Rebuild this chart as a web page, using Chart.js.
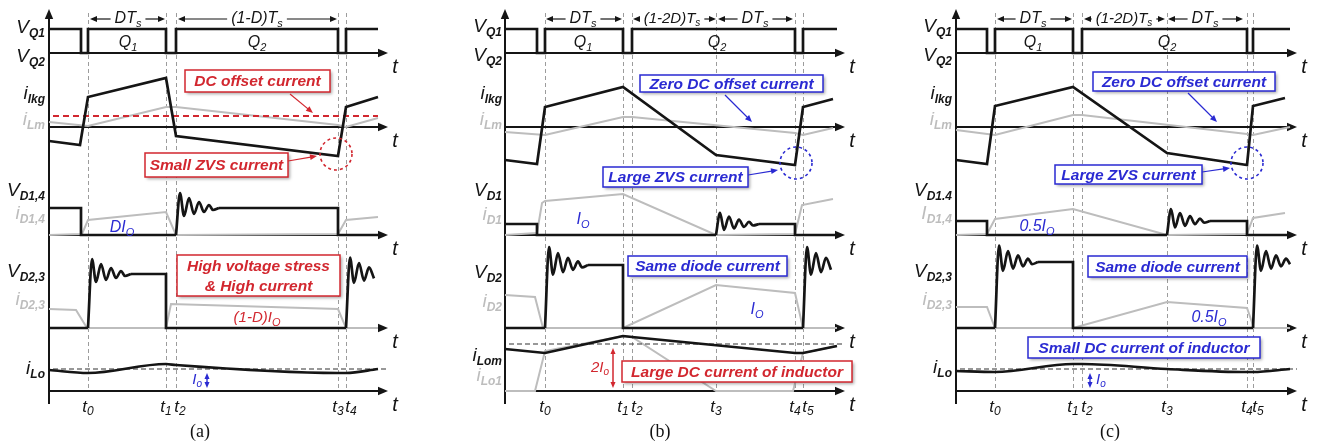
<!DOCTYPE html>
<html>
<head>
<meta charset="utf-8">
<script src="https://cdn.jsdelivr.net/npm/chart.js@4.4.0/dist/chart.umd.min.js"></script>
<style>
html, body { margin: 0; padding: 0; background: #fff; }
#wrap { position: relative; width: 1317px; height: 445px; overflow: hidden; }
canvas { position: absolute; top: 0; }
</style>
</head>
<body>
<div id="wrap">
  <canvas id="chartA" width="440" height="445" style="left:0px"></canvas>
  <canvas id="chartB" width="440" height="445" style="left:440px"></canvas>
  <canvas id="chartC" width="437" height="445" style="left:880px"></canvas>
</div>
<script>
// time runs from the vertical axis, each trace value is its height above its own zero line
// ringing after a diode turns off: offsets in time and deviation from the settled level
const ringDt  = [4, 8, 13, 18, 23, 28, 33, 37, 43];
const ringDev = [15, -8, 10, -6, 6, -4, 3, -2, 0];

// (a)
const tickNamesA = ['0', '1', '2', '3', '4'];
const tickTimesA = [39, 117, 127, 289, 297];
const vqA   = [[0,24],[32,24],[32,0],[39,0],[39,24],[117,24],[117,0],[127,0],[127,24],[289,24],[289,0],[297,0],[297,24],[329,24]];
const ilkgA = [[0,-14],[31,-18],[39,30],[117,49],[127,-9],[289,-29],[297,20],[329,30]];
const ilmA  = [[0,5],[39,1],[117,20],[127,20],[289,2],[297,0],[329,9]];
const dcOffsetA = [[4,11],[329,11]];
const vd1A  = [[0,27],[32,27],[32,0],[127,0],{ring:27,k:1},[289,27],[289,0],[329,0]];
const id1A  = [[0,0],[33,1],[39,15],[117,23],[127,0],[289,1],[297,15],[329,18]];
const vd2A  = [[0,0],[39,0],{ring:54,k:1},[117,54],[117,0],[297,0],{ring:54,k:1.1,end:329}];
const id2A  = [[0,19],[27,18],[38,0],[117,0],[122,24],[289,19],[297,0],[329,0]];
const iloA  = [[0,21],[39,18],[117,27],[127,26],[289,18],[297,18],[329,22]];
const ioRefA = [[4,22],[339,22]];

// (b)
const tickNamesB = ['0', '1', '2', '3', '4', '5'];
const tickTimesB = [40, 118, 127, 211, 290, 298];
const vqB   = [[0,24],[32,24],[32,0],[40,0],[40,24],[118,24],[118,0],[127,0],[127,24],[290,24],[290,0],[298,0],[298,24],[332,24]];
const ilkgB = [[0,-33],[32,-37],[40,20],[118,40],[211,-28],[290,-38],[298,20],[328,28]];
const ilmB  = [[0,-5],[40,-8],[118,10],[127,10],[290,-6],[298,-8],[328,-1]];
const vd1B  = [[0,11],[32,11],[32,0],[211,0],{ring:11,k:0.75},[290,11],[290,0],[332,0]];
const id1B  = [[0,0],[32,2],[37,32],[40,34],[118,41],[211,0],[290,1],[297,30],[328,36]];
const vd2B  = [[0,0],[40,0],{ring:63,k:1.2},[118,63],[118,0],[298,0],{ring:63,k:1.2,end:330}];
const id2B  = [[0,33],[30,31],[38,0],[118,0],[211,43],[290,35],[298,0],[332,0]];
const ilomB = [[0,42],[40,38],[118,55],[127,54],[290,38],[298,38],[332,45]];
const ilo1B = [[0,0],[30,0],[40,40],[118,55],[127,54],[211,0],[288,0],[298,38],[332,45]];
const ioRefB = [[4,47],[340,47]];

// (c)
const tickNamesC = ['0', '1', '2', '3', '4', '5'];
const tickTimesC = [39, 117, 126, 211, 291, 297];
const vqC   = [[0,24],[31,24],[31,0],[39,0],[39,24],[117,24],[117,0],[126,0],[126,24],[291,24],[291,0],[297,0],[297,24],[334,24]];
const ilkgC = [[0,-33],[31,-37],[39,21],[117,40],[211,-26],[291,-38],[297,21],[329,29]];
const ilmC  = [[0,-3],[39,-8],[117,12],[126,12],[291,-7],[297,-8],[334,0]];
const vd1C  = [[0,14],[31,14],[31,0],[211,0],{ring:14,k:0.8},[291,14],[291,0],[334,0]];
const id1C  = [[0,0],[31,1],[39,16],[117,26],[211,0],[291,1],[297,17],[329,22]];
const vd2C  = [[0,0],[39,0],{ring:66,k:1.1},[117,66],[117,0],[297,0],{ring:66,k:1.1,end:334}];
const id2C  = [[0,21],[31,21],[39,0],[117,0],[211,26],[291,20],[298,0],[334,0]];
const iloC  = [[0,20],[39,19],[117,27],[126,27],[211,22],[291,19],[297,19],[334,22]];
const ioRefC = [[4,22],[341,22]];

const rowNamesA = [['V','Q1'],['V','Q2'],['i','lkg'],['i','Lm'],['V','D1,4'],['i','D1,4'],['V','D2,3'],['i','D2,3'],['i','Lo']];
const rowNamesB = [['V','Q1'],['V','Q2'],['i','lkg'],['i','Lm'],['V','D1'],['i','D1'],['V','D2'],['i','D2'],['i','Lom'],['i','Lo1']];
const rowNamesC = [['V','Q1'],['V','Q2'],['i','lkg'],['i','Lm'],['V','D1.4'],['I','D1,4'],['V','D2,3'],['i','D2,3'],['i','Lo']];

// ---- layout / style ----
const FONT = '"Liberation Sans", Arial, sans-serif';
const BLACK = '#151515', GRAY = '#bdbdbd', RED = '#d2272f', BLUE = '#2a2ad2';
const ROW = { vq: 53, ilkg: 127, vd1: 235, vd2: 328, ilo: 391 };

const it = s => `italic ${s}px ${FONT}`;
const bi = s => `italic bold ${s}px ${FONT}`;
const sub2 = (m, s, big, small) => [[m, it(big)], [s, it(small), big * 0.3]];
const subB = (m, s, big, small) => [[m, it(big)], [s, bi(small), big * 0.3]];

// splits a trace into its straight part (with gaps) and its smooth ringing parts
function expand(arr) {
    let main = [], rings = [];
    arr.forEach(p => {
        if (Array.isArray(p)) { main.push({x: p[0], y: p[1]}); return; }
        let start = main[main.length - 1];
        let end = p.end !== undefined ? p.end : Infinity;
        let seg = [{x: start.x, y: start.y}];
        ringDt.forEach((dt, j) => {
            if (start.x + dt <= end) seg.push({x: start.x + dt, y: p.ring + ringDev[j] * p.k});
        });
        rings.push(seg);
        main.push({x: start.x, y: null});
        main.push(seg[seg.length - 1]);
    });
    return { main, rings };
}

function series(arr, base, color, width, extra) {
    let parts = expand(arr);
    let conv = pts => pts.map(p => ({x: p.x, y: p.y === null ? null : base - p.y}));
    let common = {
        borderColor: color,
        borderWidth: width,
        pointRadius: 0,
        fill: false,
        clip: false,
        order: color === GRAY ? 3 : 1
    };
    let sets = [Object.assign({}, common, { data: conv(parts.main), tension: 0 }, extra || {})];
    parts.rings.forEach(r => {
        sets.push(Object.assign({}, common, { data: conv(r), cubicInterpolationMode: 'monotone' }));
    });
    return sets;
}

function measure(ctx, parts) {
    let w = 0;
    parts.forEach(p => { ctx.font = p[1]; w += ctx.measureText(p[0]).width; });
    return w;
}

function txt(ctx, x, y, parts, align, color) {
    ctx.fillStyle = color;
    ctx.textBaseline = 'middle';
    ctx.textAlign = 'left';
    let w = measure(ctx, parts);
    let cx = align === 'right' ? x - w : (align === 'center' ? x - w / 2 : x);
    parts.forEach(p => {
        ctx.font = p[1];
        ctx.fillText(p[0], cx, y + (p[2] || 0));
        cx += ctx.measureText(p[0]).width;
    });
}

function arrow(ctx, x1, y1, x2, y2, color, lw, head) {
    let a = Math.atan2(y2 - y1, x2 - x1);
    ctx.strokeStyle = color; ctx.fillStyle = color; ctx.lineWidth = lw;
    ctx.setLineDash([]);
    ctx.beginPath();
    ctx.moveTo(x1, y1);
    ctx.lineTo(x2 - head * 0.7 * Math.cos(a), y2 - head * 0.7 * Math.sin(a));
    ctx.stroke();
    let h = head * 0.42;
    ctx.beginPath();
    ctx.moveTo(x2, y2);
    ctx.lineTo(x2 - head * Math.cos(a) + h * Math.sin(a), y2 - head * Math.sin(a) - h * Math.cos(a));
    ctx.lineTo(x2 - head * Math.cos(a) - h * Math.sin(a), y2 - head * Math.sin(a) + h * Math.cos(a));
    ctx.closePath();
    ctx.fill();
}

function dblArrow(ctx, x, y1, y2, color) {
    let m = (y1 + y2) / 2;
    arrow(ctx, x, m, x, y1, color, 1.5, 6);
    arrow(ctx, x, m, x, y2, color, 1.5, 6);
}

function dashCircle(ctx, x, y, r, color) {
    ctx.strokeStyle = color; ctx.lineWidth = 1.6;
    ctx.setLineDash([3, 3]);
    ctx.beginPath(); ctx.arc(x, y, r, 0, Math.PI * 2); ctx.stroke();
    ctx.setLineDash([]);
}

function noteBox(ctx, x1, y1, x2, y2, color, lines) {
    ctx.save();
    ctx.shadowColor = 'rgba(0,0,0,0.35)';
    ctx.shadowBlur = 3; ctx.shadowOffsetX = 2; ctx.shadowOffsetY = 2;
    ctx.fillStyle = '#fff';
    ctx.fillRect(x1, y1, x2 - x1, y2 - y1);
    ctx.restore();
    ctx.strokeStyle = color; ctx.lineWidth = 1.5; ctx.setLineDash([]);
    ctx.strokeRect(x1, y1, x2 - x1, y2 - y1);
    let h = (y2 - y1) / lines.length;
    lines.forEach((l, i) => txt(ctx, (x1 + x2) / 2, y1 + h * (i + 0.5) + 1, [[l, bi(15.5)]], 'center', color));
}

function dim(ctx, x1, x2, y, cx, parts) {
    let w = measure(ctx, parts);
    arrow(ctx, cx - w / 2 - 4, y, x1, y, BLACK, 1.2, 7);
    arrow(ctx, cx + w / 2 + 4, y, x2, y, BLACK, 1.2, 7);
    txt(ctx, cx, y, parts, 'center', BLACK);
}

function overlay(p) {
    return {
        id: 'overlay' + p.id,
        beforeDatasetsDraw(chart) {
            let ctx = chart.ctx;
            let X = v => chart.scales.x.getPixelForValue(v);
            let Y = v => chart.scales.y.getPixelForValue(v);
            ctx.save();
            ctx.strokeStyle = '#9c9c9c'; ctx.lineWidth = 1; ctx.setLineDash([4, 3]);
            p.ticks.forEach(t => {
                ctx.beginPath();
                ctx.moveTo(Math.round(X(t)) + 0.5, Y(13));
                ctx.lineTo(Math.round(X(t)) + 0.5, Y(392));
                ctx.stroke();
            });
            ctx.setLineDash([]);
            arrow(ctx, X(0), Y(404), X(0), Y(9), BLACK, 2, 10);
            Object.values(ROW).forEach(b => {
                arrow(ctx, X(0), Y(b), X(p.axisEnd), Y(b), BLACK, 2, 10);
            });
            ctx.restore();
        },
        afterDatasetsDraw(chart) {
            let ctx = chart.ctx;
            let X = v => chart.scales.x.getPixelForValue(v);
            let Y = v => chart.scales.y.getPixelForValue(v);
            ctx.save();
            Object.values(ROW).forEach(b => {
                txt(ctx, X(p.axisEnd) + 7, Y(b) + 14, [['t', it(20)]], 'center', BLACK);
            });
            p.names.forEach((n, i) => {
                txt(ctx, X(p.labelX), Y(p.labelY[i]), subB(n[0], n[1], 19, 12), 'right', p.labelInk[i] ? GRAY : BLACK);
            });
            p.ticks.forEach((t, i) => {
                txt(ctx, X(t) + p.tickShift[i], Y(407), sub2('t', p.tickNames[i], 17, 12), 'center', BLACK);
            });
            p.notes(ctx, X, Y);
            ctx.font = `18px "Liberation Serif", "Times New Roman", serif`;
            ctx.fillStyle = '#111'; ctx.textAlign = 'center'; ctx.textBaseline = 'middle';
            ctx.fillText(p.caption, X(p.captionX), Y(432));
            ctx.restore();
        }
    };
}

function makeChart(id, origin, width, datasets, p) {
    return new Chart(document.getElementById(id), {
        type: 'line',
        data: { datasets: datasets.flat() },
        options: {
            responsive: false,
            animation: false,
            devicePixelRatio: 1,
            layout: { padding: 0 },
            elements: { point: { radius: 0, hoverRadius: 0 } },
            scales: {
                x: { type: 'linear', display: false, min: -origin, max: width - origin },
                y: { type: 'linear', display: false, min: 0, max: 445, reverse: true }
            },
            plugins: { legend: { display: false }, tooltip: { enabled: false } },
            events: []
        },
        plugins: [overlay(p)]
    });
}

const K = 2.7, G = 2;

makeChart('chartA', 49, 440, [
    series(vqA, ROW.vq, BLACK, K),
    series(ilkgA, ROW.ilkg, BLACK, K),
    series(ilmA, ROW.ilkg, GRAY, G),
    series(dcOffsetA, ROW.ilkg, RED, 1.8, { borderDash: [6, 4], order: 2 }),
    series(vd1A, ROW.vd1, BLACK, K),
    series(id1A, ROW.vd1, GRAY, G),
    series(vd2A, ROW.vd2, BLACK, K),
    series(id2A, ROW.vd2, GRAY, G),
    series(iloA, ROW.ilo, BLACK, K, { cubicInterpolationMode: 'monotone' }),
    series(ioRefA, ROW.ilo, '#333', 1.2, { borderDash: [5, 3], order: 2 })
], {
    id: 'A', axisEnd: 339, ticks: tickTimesA, tickNames: tickNamesA, tickShift: [0, 0, 4, 0, 5],
    names: rowNamesA, labelX: -4,
    labelY: [28, 57, 94, 120, 191, 214, 272, 300, 369],
    labelInk: [0, 0, 0, 1, 0, 1, 0, 1, 0],
    caption: '(a)', captionX: 151,
    notes(ctx, X, Y) {
        dim(ctx, X(41), X(116), Y(19), X(79), sub2('DT', 's', 16, 11));
        dim(ctx, X(129), X(288), Y(19), X(208), sub2('(1-D)T', 's', 16, 11));
        txt(ctx, X(79), Y(43), sub2('Q', '1', 16, 11), 'center', BLACK);
        txt(ctx, X(208), Y(43), sub2('Q', '2', 16, 11), 'center', BLACK);
        noteBox(ctx, X(136), Y(70), X(281), Y(92), RED, ['DC offset current']);
        arrow(ctx, X(241), Y(94), X(264), Y(113), RED, 1.2, 7);
        noteBox(ctx, X(96), Y(153), X(239), Y(177), RED, ['Small ZVS current']);
        arrow(ctx, X(239), Y(161), X(268), Y(156), RED, 1.2, 7);
        dashCircle(ctx, X(287), Y(154), 16, RED);
        txt(ctx, X(73), Y(228), sub2('DI', 'O', 16, 11), 'center', BLUE);
        noteBox(ctx, X(128), Y(255), X(291), Y(296), RED, ['High voltage stress', '& High current']);
        txt(ctx, X(208), Y(318), sub2('(1-D)I', 'O', 15, 11), 'center', RED);
        dblArrow(ctx, X(158), Y(373), Y(388), BLUE);
        txt(ctx, X(153), Y(380), sub2('I', 'o', 15, 10), 'right', BLUE);
    }
});

makeChart('chartB', 65, 440, [
    series(vqB, ROW.vq, BLACK, K),
    series(ilkgB, ROW.ilkg, BLACK, K),
    series(ilmB, ROW.ilkg, GRAY, G),
    series(vd1B, ROW.vd1, BLACK, K),
    series(id1B, ROW.vd1, GRAY, G),
    series(vd2B, ROW.vd2, BLACK, K),
    series(id2B, ROW.vd2, GRAY, G),
    series(ilomB, ROW.ilo, BLACK, K),
    series(ilo1B, ROW.ilo, GRAY, G),
    series(ioRefB, ROW.ilo, '#333', 1.2, { borderDash: [5, 3], order: 2 })
], {
    id: 'B', axisEnd: 340, ticks: tickTimesB, tickNames: tickNamesB, tickShift: [0, 0, 5, 0, 0, 5],
    names: rowNamesB, labelX: -3,
    labelY: [27, 56, 94, 120, 191, 215, 273, 302, 356, 376],
    labelInk: [0, 0, 0, 1, 0, 1, 0, 1, 0, 1],
    caption: '(b)', captionX: 155,
    notes(ctx, X, Y) {
        dim(ctx, X(41), X(117), Y(19), X(78), sub2('DT', 's', 16, 11));
        dim(ctx, X(128), X(211), Y(19), X(167), sub2('(1-2D)T', 's', 15, 10));
        dim(ctx, X(213), X(288), Y(19), X(250), sub2('DT', 's', 16, 11));
        txt(ctx, X(78), Y(43), sub2('Q', '1', 16, 11), 'center', BLACK);
        txt(ctx, X(212), Y(43), sub2('Q', '2', 16, 11), 'center', BLACK);
        noteBox(ctx, X(135), Y(75), X(318), Y(92), BLUE, ['Zero DC offset current']);
        arrow(ctx, X(220), Y(95), X(247), Y(122), BLUE, 1.2, 7);
        noteBox(ctx, X(98), Y(167), X(243), Y(187), BLUE, ['Large ZVS current']);
        arrow(ctx, X(243), Y(175), X(273), Y(170), BLUE, 1.2, 7);
        dashCircle(ctx, X(291), Y(163), 16, BLUE);
        txt(ctx, X(78), Y(220), sub2('I', 'O', 16, 11), 'center', BLUE);
        noteBox(ctx, X(123), Y(256), X(282), Y(276), BLUE, ['Same diode current']);
        txt(ctx, X(252), Y(310), sub2('I', 'O', 16, 11), 'center', BLUE);
        dblArrow(ctx, X(108), Y(348), Y(388), RED);
        txt(ctx, X(104), Y(368), sub2('2I', 'o', 15, 10), 'right', RED);
        noteBox(ctx, X(117), Y(361), X(347), Y(382), RED, ['Large DC current of inductor']);
    }
});

makeChart('chartC', 76, 437, [
    series(vqC, ROW.vq, BLACK, K),
    series(ilkgC, ROW.ilkg, BLACK, K),
    series(ilmC, ROW.ilkg, GRAY, G),
    series(vd1C, ROW.vd1, BLACK, K),
    series(id1C, ROW.vd1, GRAY, G),
    series(vd2C, ROW.vd2, BLACK, K),
    series(id2C, ROW.vd2, GRAY, G),
    series(iloC, ROW.ilo, BLACK, K, { cubicInterpolationMode: 'monotone' }),
    series(ioRefC, ROW.ilo, '#333', 1.2, { borderDash: [5, 3], order: 2 })
], {
    id: 'C', axisEnd: 341, ticks: tickTimesC, tickNames: tickNamesC, tickShift: [0, 0, 5, 0, 0, 5],
    names: rowNamesC, labelX: -4,
    labelY: [27, 56, 94, 120, 191, 214, 272, 300, 368],
    labelInk: [0, 0, 0, 1, 0, 1, 0, 1, 0],
    caption: '(c)', captionX: 154,
    notes(ctx, X, Y) {
        dim(ctx, X(41), X(116), Y(19), X(77), sub2('DT', 's', 16, 11));
        dim(ctx, X(128), X(209), Y(19), X(168), sub2('(1-2D)T', 's', 15, 10));
        dim(ctx, X(212), X(287), Y(19), X(249), sub2('DT', 's', 16, 11));
        txt(ctx, X(77), Y(43), sub2('Q', '1', 16, 11), 'center', BLACK);
        txt(ctx, X(211), Y(43), sub2('Q', '2', 16, 11), 'center', BLACK);
        noteBox(ctx, X(137), Y(72), X(319), Y(91), BLUE, ['Zero DC offset current']);
        arrow(ctx, X(232), Y(93), X(261), Y(122), BLUE, 1.2, 7);
        noteBox(ctx, X(99), Y(165), X(246), Y(184), BLUE, ['Large ZVS current']);
        arrow(ctx, X(246), Y(172), X(274), Y(168), BLUE, 1.2, 7);
        dashCircle(ctx, X(291), Y(163), 16, BLUE);
        txt(ctx, X(81), Y(227), sub2('0.5I', 'O', 16, 11), 'center', BLUE);
        noteBox(ctx, X(132), Y(256), X(291), Y(277), BLUE, ['Same diode current']);
        txt(ctx, X(253), Y(318), sub2('0.5I', 'O', 16, 11), 'center', BLUE);
        noteBox(ctx, X(72), Y(337), X(304), Y(358), BLUE, ['Small DC current of inductor']);
        dblArrow(ctx, X(134), Y(373), Y(388), BLUE);
        txt(ctx, X(140), Y(380), sub2('I', 'o', 15, 10), 'left', BLUE);
    }
});
</script>
</body>
</html>
